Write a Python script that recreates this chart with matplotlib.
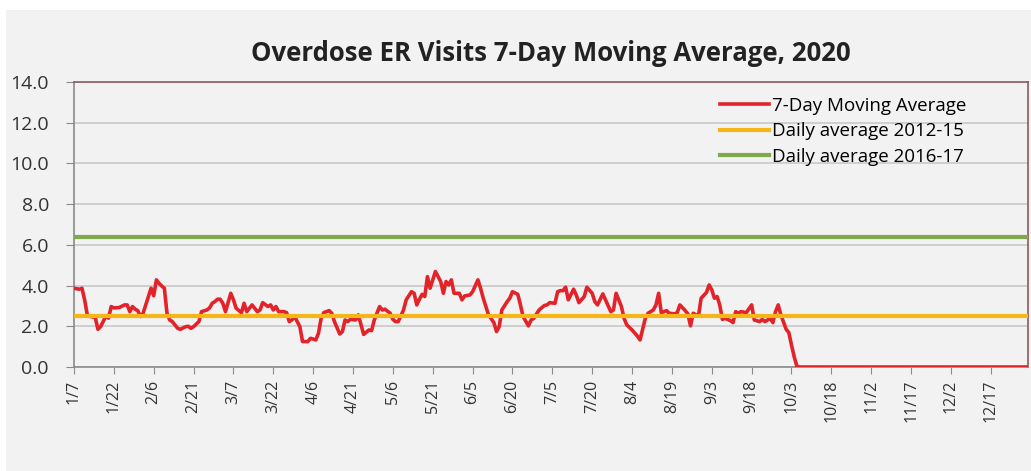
import numpy as np
import matplotlib
matplotlib.use("Agg")
import matplotlib.pyplot as plt
import matplotlib.dates as mdates
from matplotlib.patches import Rectangle

# days after 1/7/2020 and the 7-day moving average read at those days
days = [0, 2, 3, 4, 5, 6, 8, 9, 10, 12, 13, 14, 15, 17, 19, 20, 21, 22, 23, 24,
        25, 26, 28, 29, 30, 31, 32, 33, 34, 35, 36, 37, 39, 40, 42, 43, 44, 45, 47, 48,
        50, 51, 52, 53, 54, 55, 56, 57, 59, 60, 61, 63, 64, 65, 67, 69, 70, 71, 73, 74,
        75, 76, 77, 79, 80, 81, 82, 83, 85, 86, 88, 89, 91, 92, 93, 94, 96, 97, 98, 100,
        101, 102, 103, 104, 106, 107, 108, 109, 111, 112, 113, 115, 116, 117, 119, 120, 121, 122, 124, 125,
        127, 128, 129, 130, 131, 132, 133, 134, 135, 136, 137, 138, 139, 140, 141, 142, 143, 145, 146, 147,
        149, 150, 152, 153, 154, 155, 156, 158, 159, 160, 161, 163, 164, 165, 167, 168, 169, 171, 172, 173,
        175, 177, 178, 179, 181, 182, 183, 184, 185, 186, 188, 189, 190, 192, 193, 195, 196, 197, 199, 200,
        202, 203, 204, 206, 207, 208, 210, 212, 213, 215, 216, 218, 219, 220, 221, 223, 224, 226, 227, 228,
        230, 231, 232, 233, 235, 236, 238, 239, 240, 241, 242, 243, 244, 245, 247, 248, 249, 250, 251, 253,
        255, 256, 258, 259, 260, 262, 263, 264, 265, 266, 268, 269, 270, 271, 272, 273, 359]
moving_avg = [3.87, 3.82, 3.87, 3.30, 2.56, 2.48, 2.44, 1.85, 1.98, 2.50, 2.40, 2.97, 2.90, 2.92, 3.05, 3.05, 2.72, 2.97, 2.84, 2.77,
              2.48, 2.64, 3.46, 3.87, 3.50, 4.28, 4.11, 3.98, 3.87, 2.64, 2.31, 2.23, 1.90, 1.85, 1.98, 2.00, 1.90, 1.98, 2.23, 2.72,
              2.80, 2.90, 3.13, 3.21, 3.33, 3.33, 3.13, 2.72, 3.62, 3.30, 2.89, 2.67, 3.13, 2.72, 3.05, 2.72, 2.80, 3.16, 2.97, 3.05,
              2.80, 2.97, 2.72, 2.72, 2.67, 2.23, 2.31, 2.48, 1.98, 1.25, 1.25, 1.41, 1.33, 1.66, 2.39, 2.67, 2.77, 2.64, 2.23, 1.62,
              1.74, 2.31, 2.23, 2.34, 2.31, 2.56, 2.07, 1.60, 1.82, 1.79, 2.31, 2.97, 2.80, 2.84, 2.64, 2.34, 2.23, 2.23, 2.80, 3.30,
              3.70, 3.62, 3.05, 3.33, 3.57, 3.46, 4.44, 3.87, 4.28, 4.69, 4.44, 4.20, 3.62, 4.20, 4.03, 4.28, 3.62, 3.62, 3.30, 3.49,
              3.54, 3.70, 4.28, 3.87, 3.38, 2.97, 2.56, 2.18, 1.74, 1.98, 2.80, 3.21, 3.38, 3.70, 3.57, 3.05, 2.48, 2.02, 2.31, 2.39,
              2.80, 3.02, 3.05, 3.16, 3.13, 3.70, 3.75, 3.75, 3.92, 3.30, 3.82, 3.54, 3.16, 3.46, 3.92, 3.62, 3.21, 3.05, 3.59, 3.30,
              2.72, 2.80, 3.62, 2.97, 2.39, 2.07, 1.82, 1.52, 1.33, 2.39, 2.64, 2.80, 3.05, 3.62, 2.67, 2.77, 2.64, 2.61, 2.67, 3.05,
              2.77, 2.61, 2.02, 2.64, 2.51, 3.38, 3.66, 4.03, 3.79, 3.38, 3.46, 3.05, 2.34, 2.39, 2.28, 2.18, 2.72, 2.64, 2.72, 2.67,
              3.05, 2.31, 2.23, 2.34, 2.23, 2.39, 2.18, 2.72, 3.05, 2.56, 1.85, 1.69, 1.08, 0.51, 0.05, 0.0, 0.0]

avg_2012_15 = 2.5
avg_2016_17 = 6.4

start = np.datetime64("2020-01-07")
end = np.datetime64("2020-12-31")
dates = start + np.array(days).astype("timedelta64[D]")
tick_dates = np.arange(start, end, np.timedelta64(15, "D"))

font = "Open Sans"

fig = plt.figure(figsize=(10.31, 4.71), dpi=100, facecolor="white")
fig.patches.append(Rectangle((6 / 1031, 0), 1, 461 / 471, transform=fig.transFigure,
                             facecolor="#f2f2f2", edgecolor="none", zorder=-10))
ax = fig.add_axes([74 / 1031, 104 / 471, 954 / 1031, 285 / 471])
ax.set_facecolor("#f2f2f2")

ax.plot(dates, moving_avg, color="#e3232a", lw=2.6, label="7-Day Moving Average", zorder=3)
ax.axhline(avg_2012_15, color="#f7b617", lw=3, label="Daily average 2012-15", zorder=4)
ax.axhline(avg_2016_17, color="#7ea94c", lw=3, label="Daily average 2016-17", zorder=4)

ax.set_xlim(start, end)
ax.set_ylim(0, 14)
ax.set_yticks(np.arange(0, 14.1, 2))
ax.set_yticklabels([f"{v:.1f}" for v in np.arange(0, 14.1, 2)])
ax.set_xticks(tick_dates)
ax.xaxis.set_major_formatter(mdates.DateFormatter("%-m/%-d"))
ax.grid(axis="y", color="#c9c9c9", lw=1.2)
ax.set_axisbelow(True)

for s in ["top", "right"]:
    ax.spines[s].set_color("#8e5a5a")
    ax.spines[s].set_linewidth(1.2)
for s in ["left", "bottom"]:
    ax.spines[s].set_color("#8a8a8a")
    ax.spines[s].set_linewidth(1.2)

ax.tick_params(axis="y", length=6, color="#8a8a8a", labelsize=14, pad=12, labelcolor="#333333")
ax.tick_params(axis="x", length=5, color="#8a8a8a", labelsize=11.5, pad=4,
               labelrotation=90, labelcolor="#333333")
for lab in ax.get_xticklabels() + ax.get_yticklabels():
    lab.set_family(font)

ax.set_title("Overdose ER Visits 7-Day Moving Average, 2020", fontsize=18.5,
             fontweight="bold", family=font, color="#222222", pad=15)

ax.legend(loc="upper left", bbox_to_anchor=((720 - 74) / 954, 1 - 15 / 285), frameon=False,
          prop={"family": font, "size": 13.5}, handlelength=2.6, handletextpad=0.15,
          labelspacing=0.4, borderaxespad=0, borderpad=0)

fig.savefig("out.png", dpi=100, facecolor=fig.get_facecolor())
